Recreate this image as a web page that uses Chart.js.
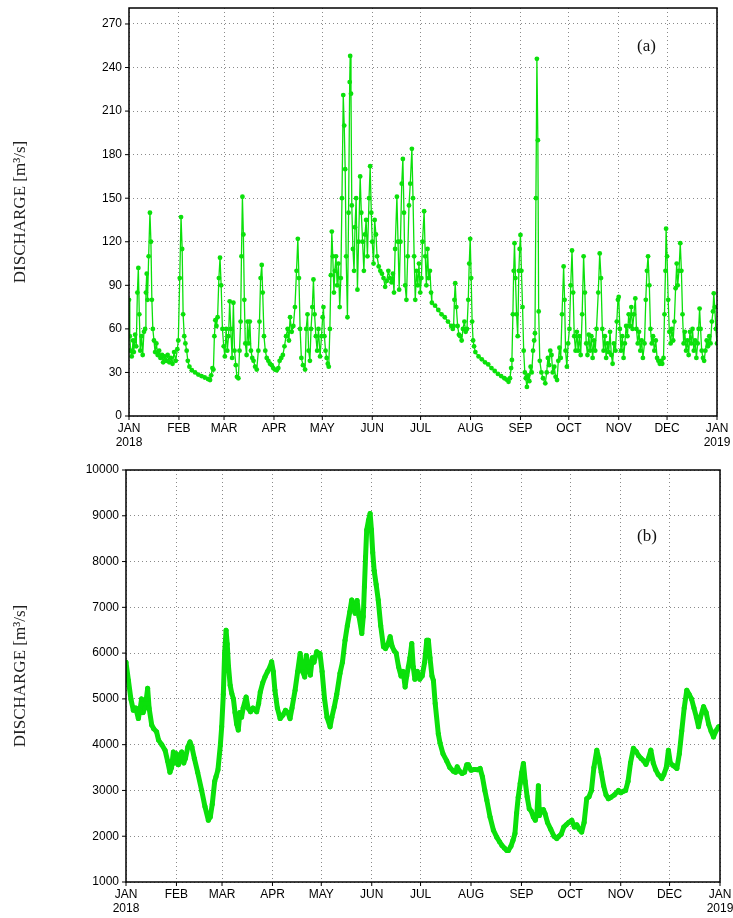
<!DOCTYPE html>
<html>
<head>
<meta charset="utf-8">
<script src="https://cdn.jsdelivr.net/npm/chart.js@4.4.1/dist/chart.umd.min.js"></script>
<style>
    body { margin: 0; background: #fff; }
    #wrap { position: relative; width: 733px; height: 918px; }
    canvas { position: absolute; left: 0; }
    .tag { position: absolute; font-family: 'Liberation Serif', 'DejaVu Serif', serif; font-size: 17px; color: #111; }
</style>
</head>
<body>
<div id="wrap">
    <canvas id="chartA" width="733" height="450" style="top:0"></canvas>
    <canvas id="chartB" width="733" height="468" style="top:450px"></canvas>
    <div class="tag" style="left:637px; top:36px;">(a)</div>
    <div class="tag" style="left:637px; top:526px;">(b)</div>
</div>
<script>
// month starts in days since 1 Jan 2018
const monthStarts = [0, 31, 59, 90, 120, 151, 181, 212, 243, 273, 304, 334, 365];
const monthLabels = [['JAN', '2018'], 'FEB', 'MAR', 'APR', 'MAY', 'JUN', 'JUL', 'AUG', 'SEP', 'OCT', 'NOV', 'DEC', ['JAN', '2019']];

const yTicksA = [0, 30, 60, 90, 120, 150, 180, 210, 240, 270];
const yTicksB = [1000, 2000, 3000, 4000, 5000, 6000, 7000, 8000, 9000, 10000];

// panel (a): discharge
const daysA = [
    0, 0.5, 1, 1.7, 2.5, 3, 3.8, 4.5, 5.2, 5.8, 6.4, 7, 7.8, 8.5, 9.3, 10, 10.5, 11, 11.5, 12.2,
    13, 13.6, 14.2, 14.8, 15.5, 16.2, 17, 17.8, 18.7, 19.5, 20.5, 21.2, 22, 23, 24, 25, 26, 27, 28, 29,
    30, 30.6, 31.5, 32.3, 33, 33.6, 34.3, 35, 35.8, 36.5, 37.5, 39, 41, 43, 45, 47, 49, 50.3, 51, 51.8,
    52.4, 53, 53.6, 54.3, 55, 55.8, 56.5, 57.2, 58, 58.8, 59.5, 60.3, 61, 61.8, 62.5, 63.2, 64, 64.8, 65.5, 66.3,
    67, 67.9, 68.6, 69.3, 69.8, 70.4, 71, 71.6, 72.2, 73, 73.6, 74.3, 75, 75.7, 76.5, 77.3, 78.3, 79.3, 80.3, 81,
    81.7, 82.4, 83, 83.8, 84.6, 85.5, 86.5, 87.5, 88.6, 89.5, 90.5, 91.7, 92.7, 93.5, 94.5, 95.5, 96.5, 97.5, 98.5, 99.3,
    100, 101, 102, 103, 104, 104.8, 105.5, 106.2, 107, 108, 109.3, 110, 110.8, 111.5, 112.3, 113, 113.8, 114.5, 115.2, 116,
    116.8, 117.6, 118.6, 119.5, 120.2, 120.7, 121.3, 122, 122.7, 123.4, 124, 124.7, 125.3, 125.9, 126.5, 127.2, 127.8, 128.5, 129.2, 130,
    130.8, 131.5, 132.2, 133, 133.6, 134.2, 134.8, 135.6, 136.3, 137, 137.3, 137.8, 138.3, 139, 139.7, 140.3, 141, 141.8, 142.5, 143.5,
    144.2, 145, 145.8, 146.5, 147.2, 148, 149, 149.7, 150.4, 151, 151.8, 152.5, 153.3, 154, 155, 156, 157, 158, 159, 160,
    161, 162, 163, 163.8, 164.5, 165.2, 166.3, 167, 167.7, 168.5, 169.3, 170, 170.7, 171.4, 172.2, 173, 173.8, 174.6, 175.6, 176.3,
    177, 177.7, 178.5, 179.3, 180, 180.8, 181.5, 182.2, 183.2, 183.9, 184.6, 185.3, 186, 186.8, 187.5, 188, 190, 192, 194, 196,
    198, 200, 201, 201.5, 202, 202.5, 203.2, 204, 204.8, 205.6, 206.5, 207.3, 208.2, 209, 209.8, 210.6, 211.2, 211.8, 212.4, 213,
    213.6, 214.2, 215, 217, 219, 221, 223, 225, 227, 229, 231, 233, 234.5, 235.6, 236.5, 237.2, 237.7, 238.3, 238.8, 239.3,
    239.9, 240.6, 241.3, 242, 242.5, 243, 243.6, 244.3, 245, 245.7, 246.3, 247, 247.8, 248.5, 249.3, 250, 250.8, 251.5, 252, 252.6,
    253.2, 253.8, 254.3, 255, 256, 257, 258.4, 259.3, 260, 260.8, 261.5, 262.3, 263, 264, 264.8, 265.7, 266.5, 267.2, 268, 268.8,
    269.8, 270.4, 271, 271.8, 272.6, 273.4, 274.2, 275, 275.7, 276.4, 277.2, 278, 278.8, 279.6, 280.4, 281.3, 282.2, 283, 283.8, 284.6,
    285.4, 286.2, 287, 287.8, 288.6, 289.4, 290.2, 291.3, 292.2, 293, 293.8, 294.6, 295.4, 296.2, 297, 297.8, 298.6, 299.4, 300.2, 301,
    302, 302.8, 303.5, 304, 304.7, 305.4, 306.2, 307, 307.8, 308.6, 309.4, 310.2, 311, 311.8, 312.6, 313.4, 314.3, 315, 315.8, 316.6,
    317.4, 318.2, 319, 320, 320.8, 321.5, 322.2, 323, 323.7, 324.5, 325.3, 326.1, 327, 327.8, 328.6, 329.5, 330.3, 331, 331.8, 332.4,
    333, 333.4, 334, 334.7, 335.4, 336.2, 337, 337.8, 338.5, 339.3, 340, 340.6, 341.4, 342.2, 342.9, 343.6, 344.3, 345, 345.8, 346.6,
    347.4, 348.2, 349, 349.8, 350.6, 351.4, 352.2, 353, 353.6, 354.2, 354.8, 355.5, 356.3, 357, 357.8, 358.6, 359.4, 360.2, 361, 361.8,
    362.5, 363, 363.6, 364.3, 365
];
const flowA = [
    80, 55, 45, 41, 52, 44, 56, 48, 85, 102, 70, 45, 55, 42, 58, 60, 85, 98, 80, 110,
    140, 120, 80, 60, 52, 44, 50, 42, 45, 40, 42, 37, 41, 38, 42, 37, 40, 36, 44, 38,
    46, 52, 95, 137, 115, 70, 55, 50, 45, 38, 34, 31.5, 30, 28.5, 27.5, 26.5, 25.5, 24.8, 28, 33,
    32, 55, 66, 62, 68, 95, 109, 90, 60, 48, 41, 60, 45, 55, 79, 60, 40, 78, 45, 35,
    27, 26, 45, 65, 110, 151, 125, 80, 50, 42, 65, 50, 65, 45, 40, 38, 34, 32, 45, 65,
    95, 104, 85, 55, 45, 40, 38, 36, 35, 33, 32, 31.5, 33, 38, 40, 42, 48, 55, 60, 52,
    68, 58, 62, 75, 100, 122, 95, 60, 40, 35, 32, 60, 70, 45, 38, 60, 75, 94, 70, 55,
    45, 60, 41, 55, 68, 75, 55, 45, 40, 36, 34, 60, 97, 127, 110, 85, 100, 110, 90, 105,
    75, 95, 150, 221, 200, 170, 110, 68, 140, 230, 248, 222, 145, 115, 100, 130, 150, 87, 120, 165,
    140, 120, 100, 125, 135, 110, 150, 172, 140, 120, 105, 135, 125, 110, 103, 100, 98, 95, 89, 93,
    100, 95, 92, 98, 85, 115, 151, 120, 87, 120, 160, 177, 140, 90, 80, 110, 145, 160, 184, 150,
    110, 80, 100, 90, 105, 85, 95, 120, 141, 110, 90, 115, 95, 100, 85, 78, 76, 73, 70, 68,
    65, 62, 60, 62, 80, 91.5, 75, 62, 56, 55, 52, 60, 65, 58, 60, 80, 105, 122, 95, 65,
    52, 48, 44, 41, 39, 37, 35.5, 33, 31, 29, 27.5, 26, 25, 23.6, 26, 33, 38.6, 70, 100, 119,
    95, 70, 55, 100, 115, 124.7, 100, 75, 45, 30, 26, 20, 28, 24, 34, 30, 45, 52, 57, 150,
    246, 190, 72, 38, 30, 26, 22.5, 30, 40, 35, 45, 42, 30, 34, 27, 24.8, 38, 47, 40, 70,
    103, 80, 45, 34, 50, 60, 90, 114, 85, 55, 45, 58, 45, 55, 42, 70, 110, 85, 50, 42,
    56, 45, 55, 40, 52, 45, 60, 85, 112, 95, 60, 45, 55, 40, 50, 44, 58, 42, 36, 50,
    45, 65, 80, 82, 60, 45, 55, 40, 50, 62, 55, 70, 62, 75, 60, 70, 81, 60, 50, 58,
    45, 52, 40, 50, 80, 100, 110, 90, 60, 50, 55, 45, 52, 40, 38, 36, 38, 36, 40, 70,
    100, 129, 110, 80, 58, 50, 60, 52, 65, 88, 105, 90, 100, 119, 100, 70, 50, 58, 45, 52,
    42, 58, 50, 60, 45, 52, 40, 50, 60, 74, 60, 45, 40, 38, 45, 52, 48, 55, 50, 65,
    72, 84.5, 75, 60, 50
];

// panel (b): discharge
const daysB = [
    0, 1.5, 3, 4.5, 6, 7.6, 8.5, 9.6, 10.5, 11.5, 12.5, 13.3, 14.2, 15.8, 17, 18.8, 20, 22, 24, 25.5,
    27, 28, 29.1, 30, 31, 32.2, 33, 34.2, 35.5, 36.5, 38, 39.3, 40.5, 42, 44, 46.5, 48.5, 50.6, 51.8, 53,
    54.5, 55.3, 56.5, 58, 58.8, 59.8, 60.6, 61.5, 62.2, 63, 64, 65, 66, 67, 68, 69, 70, 71, 72, 73.8,
    75, 76.5, 78, 80.3, 81.5, 82.5, 84, 85.4, 87, 88.5, 89.5, 90.5, 91.5, 93, 94.7, 96.5, 98, 99.5, 100.8, 102,
    103.9, 105.5, 107, 108.5, 109.8, 110.8, 112, 113.3, 114.5, 115.5, 117.2, 118.2, 119.2, 120.5, 122, 123.5, 125.4, 126.5, 128, 129.5,
    131.5, 133, 134.6, 136, 137.5, 138.7, 139.8, 140.8, 142, 143.2, 144.9, 145.8, 146.5, 147.2, 147.9, 149, 150, 150.8, 151.6, 152.5,
    153.7, 155, 156.5, 158.2, 159.5, 161, 162.3, 163.5, 164.8, 166, 167.5, 169, 170.3, 171.5, 172.5, 173.5, 174.5, 175.6, 176.5, 177.5,
    179, 180.5, 182, 183.5, 184.8, 185.8, 186.8, 188, 188.9, 190, 191.9, 193, 194.8, 197, 199, 201.2, 202.5, 203.5, 205, 206.5,
    208, 209.4, 210.4, 212, 214, 216, 217.6, 219, 220.5, 221.7, 223.7, 225.8, 227.8, 229.5, 231, 232.5, 234, 235, 236.5, 237.8,
    239, 240, 241, 242.2, 243.2, 244.2, 245.3, 246.5, 247.8, 249, 250.3, 251.5, 252.5, 253.4, 254, 255, 256.5, 257.5, 259, 261,
    263, 264.7, 266, 267.5, 269, 270.5, 272, 273.9, 275.5, 277, 278.5, 280, 281.5, 283.1, 284.5, 286, 287.5, 289.3, 290.5, 292,
    293.5, 295, 296.4, 298, 300, 302.6, 304, 305.5, 307, 308.5, 310, 311.8, 313.5, 315, 316.5, 318, 319.5, 321, 322.5, 324,
    325.5, 327, 329.2, 330.5, 332, 333.3, 334.5, 336, 338.5, 340, 341.5, 343, 344.6, 346, 347.5, 349, 350.5, 351.8, 353, 354.9,
    356.5, 358, 359.5, 361, 362.5, 364.1, 365
];
const flowB = [
    5800, 5400, 5000, 4750, 4800, 4570, 4750, 5000, 4700, 4800, 5000, 5230, 4800, 4430, 4350, 4280, 4100, 4000, 3880, 3650,
    3400, 3500, 3840, 3600, 3800, 3560, 3700, 3840, 3600, 3700, 3950, 4060, 3950, 3700, 3400, 3000, 2650, 2350, 2420, 2700,
    3200, 3300, 3450, 4000, 4390, 5100, 6000, 6500, 6200, 5700, 5300, 5120, 5000, 4700, 4450, 4320, 4700, 4600, 4800, 5040,
    4800, 4720, 4800, 4720, 4900, 5150, 5350, 5480, 5600, 5700, 5810, 5600, 5190, 4800, 4570, 4650, 4750, 4700, 4570, 4800,
    5190, 5600, 5990, 5600, 5480, 5950, 5700, 5520, 5900, 5800, 6030, 6000, 5990, 5600, 5000, 4600, 4390, 4600, 4830, 5100,
    5560, 5800, 6280, 6600, 6900, 7160, 7000, 6870, 7150, 6800, 6430, 6800, 7450, 8100, 8690, 8900, 9050, 8700, 8200, 7800,
    7500, 7160, 6600, 6140, 6100, 6200, 6360, 6150, 6050, 6000, 5700, 5500, 5600, 5260, 5500, 5700, 5900, 6210, 5700, 5430,
    5600, 5430, 5500, 5800, 6280, 6280, 5900, 5500, 5400, 4900, 4240, 4030, 3800, 3650, 3500, 3420, 3400, 3515, 3420, 3370,
    3400, 3560, 3560, 3440, 3460, 3450, 3480, 3300, 3000, 2790, 2420, 2130, 1980, 1880, 1800, 1740, 1690, 1690, 1780, 1910,
    2060, 2500, 2850, 3150, 3400, 3590, 3200, 2860, 2600, 2550, 2420, 2350, 2500, 3100, 2450, 2560, 2580, 2490, 2300, 2150,
    2000, 1950, 2000, 2050, 2200, 2250, 2300, 2350, 2200, 2250, 2150, 2090, 2300, 2820, 2860, 3000, 3500, 3880, 3700, 3400,
    3100, 2900, 2820, 2850, 2900, 3000, 2950, 2980, 3000, 3200, 3600, 3920, 3850, 3760, 3700, 3650, 3570, 3700, 3880, 3600,
    3450, 3350, 3260, 3350, 3500, 3880, 3600, 3550, 3480, 3800, 4300, 4800, 5190, 5100, 5000, 4800, 4600, 4390, 4600, 4830,
    4700, 4450, 4300, 4170, 4300, 4390, 4400
];

const GREEN = '#0be00b';

// frame round the plot and short outside tick marks
const framePlugin = {
    id: 'frame',
    afterDraw(chart) {
        const { ctx, chartArea: a, scales } = chart;
        ctx.save();
        ctx.strokeStyle = '#000';
        ctx.lineWidth = 1.5;
        ctx.strokeRect(a.left, a.top, a.right - a.left, a.bottom - a.top);
        ctx.lineWidth = 1;
        ctx.beginPath();
        scales.x.ticks.forEach(t => {
            const px = scales.x.getPixelForValue(t.value);
            ctx.moveTo(px, a.bottom);
            ctx.lineTo(px, a.bottom + 4);
        });
        scales.y.ticks.forEach(t => {
            const py = scales.y.getPixelForValue(t.value);
            ctx.moveTo(a.left, py);
            ctx.lineTo(a.left - 4, py);
        });
        ctx.stroke();
        ctx.restore();
    }
};

function makeChart(id, days, flow, yTicks, yMin, yMax, box, lineWidth, radius) {
    const ctx = document.getElementById(id).getContext('2d');
    return new Chart(ctx, {
        type: 'line',
        data: {
            datasets: [{
                data: days.map((d, i) => ({ x: d, y: flow[i] })),
                borderColor: GREEN,
                backgroundColor: GREEN,
                borderWidth: lineWidth,
                borderJoinStyle: 'round',
                borderCapStyle: 'round',
                pointRadius: radius,
                pointBorderWidth: 0,
                pointBackgroundColor: GREEN,
                tension: 0,
                fill: false
            }]
        },
        options: {
            responsive: false,
            animation: false,
            devicePixelRatio: 1,
            layout: { padding: { left: 0, right: box.right, top: box.top, bottom: 0 } },
            plugins: { legend: { display: false }, tooltip: { enabled: false } },
            scales: {
                x: {
                    type: 'linear',
                    min: 0,
                    max: 365,
                    afterBuildTicks: scale => { scale.ticks = monthStarts.map(v => ({ value: v })); },
                    afterFit: scale => {
                        scale.height = box.xHeight;
                        scale.paddingLeft = 0;
                        scale.paddingRight = 0;
                    },
                    grid: { color: '#8a8a8a', lineWidth: 1, drawTicks: false },
                    border: { display: false, dash: [1, 3] },
                    ticks: {
                        autoSkip: false,
                        maxRotation: 0,
                        padding: 5,
                        color: '#000',
                        font: { family: 'Liberation Sans', size: 12 },
                        callback: value => monthLabels[monthStarts.indexOf(value)]
                    }
                },
                y: {
                    min: yMin,
                    max: yMax,
                    afterBuildTicks: scale => { scale.ticks = yTicks.map(v => ({ value: v })); },
                    afterFit: scale => {
                        scale.width = box.left;
                        scale.paddingTop = 0;
                        scale.paddingBottom = 0;
                    },
                    grid: { color: '#8a8a8a', lineWidth: 1, drawTicks: false },
                    border: { display: false, dash: [1, 3] },
                    ticks: {
                        padding: 7,
                        color: '#000',
                        font: { family: 'Liberation Sans', size: 12 },
                        callback: value => String(value)
                    },
                    title: {
                        display: true,
                        text: 'DISCHARGE [m³/s]',
                        color: '#222',
                        font: { family: 'Liberation Serif', size: 17 },
                        padding: { top: 10, bottom: 0 }
                    }
                }
            }
        },
        plugins: [framePlugin]
    });
}

makeChart('chartA', daysA, flowA, yTicksA, 0, 281,
    { left: 129, right: 16, top: 8, xHeight: 34 }, 1.3, 2.4);
makeChart('chartB', daysB, flowB, yTicksB, 1000, 10000,
    { left: 126, right: 13, top: 20, xHeight: 36 }, 5, 2.5);
</script>
</body>
</html>
